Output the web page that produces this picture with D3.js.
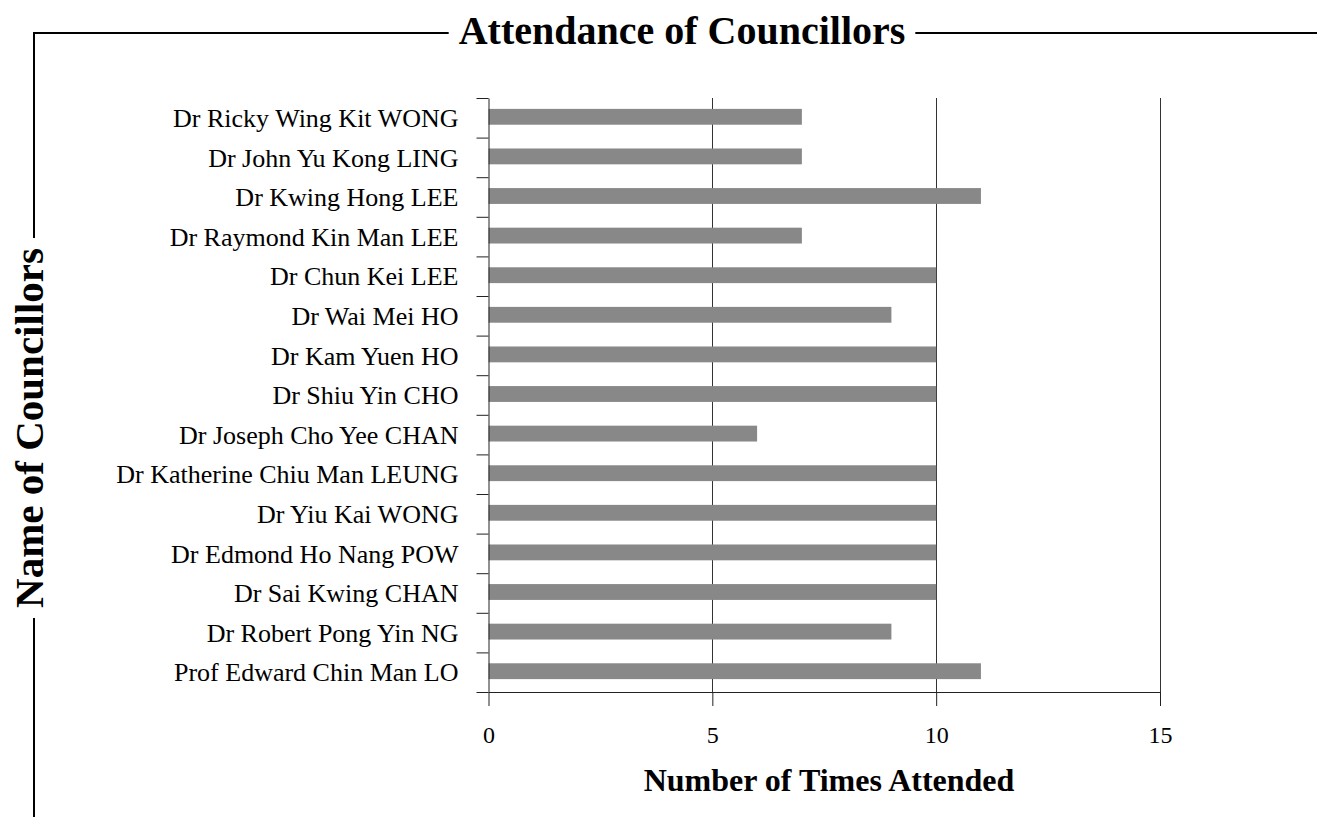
<!DOCTYPE html>
<html>
<head>
<meta charset="utf-8">
<script src="https://cdn.jsdelivr.net/npm/d3@7"></script>
<style>
  html, body { margin: 0; padding: 0; background: #fff; }
  svg { display: block; font-family: "Liberation Serif", "Times New Roman", serif; }
</style>
</head>
<body>
<svg id="chart" width="1317" height="817"></svg>
<script>
// data
const councillors = [
  'Dr Ricky Wing Kit WONG',
  'Dr John Yu Kong LING',
  'Dr Kwing Hong LEE',
  'Dr Raymond Kin Man LEE',
  'Dr Chun Kei LEE',
  'Dr Wai Mei HO',
  'Dr Kam Yuen HO',
  'Dr Shiu Yin CHO',
  'Dr Joseph Cho Yee CHAN',
  'Dr Katherine Chiu Man LEUNG',
  'Dr Yiu Kai WONG',
  'Dr Edmond Ho Nang POW',
  'Dr Sai Kwing CHAN',
  'Dr Robert Pong Yin NG',
  'Prof Edward Chin Man LO'
];
const attended = [7, 7, 11, 7, 10, 9, 10, 10, 6, 10, 10, 10, 10, 9, 11];
const xTicks = [0, 5, 10, 15];

const svg = d3.select('#chart');

const plot = { left: 488.5, right: 1160, top: 98, bottom: 692 };

// X scale
const scaleX = d3.scaleLinear()
  .domain([0, 15])
  .range([plot.left, plot.right]);

// Y scale (one band per councillor)
const scaleY = d3.scaleBand()
  .domain(councillors)
  .range([plot.top, plot.bottom])
  .paddingInner(0)
  .paddingOuter(0);

const barH = scaleY.bandwidth() * 0.4;

// gridlines
svg.append('g')
  .attr('id', 'grid')
  .selectAll('line')
  .data(xTicks.filter(d => d > 0))
  .join('line')
  .attr('x1', d => Math.round(scaleX(d)) + 0.5)
  .attr('x2', d => Math.round(scaleX(d)) + 0.5)
  .attr('y1', plot.top)
  .attr('y2', plot.bottom)
  .style('stroke', '#333')
  .style('stroke-width', 1);

// bars
svg.append('g')
  .attr('id', 'bars')
  .selectAll('rect')
  .data(attended)
  .join('rect')
  .attr('x', scaleX(0))
  .attr('y', (d, i) => scaleY(councillors[i]) + scaleY.bandwidth() / 2 - barH / 2 - 1)
  .attr('width', d => scaleX(d) - scaleX(0))
  .attr('height', barH)
  .style('fill', '#888888');

// x axis
const xAxis = svg.append('g')
  .attr('id', 'x-axis')
  .attr('transform', `translate(0,${plot.bottom})`)
  .call(d3.axisBottom(scaleX).tickValues(xTicks).tickSize(14).tickSizeOuter(0).tickPadding(20));

// y axis ticks at band boundaries
const scaleYEdge = d3.scaleLinear()
  .domain([0, councillors.length])
  .range([plot.top, plot.bottom]);

const yAxis = svg.append('g')
  .attr('id', 'y-axis')
  .attr('transform', `translate(${plot.left},0)`)
  .call(d3.axisLeft(scaleYEdge).tickValues(d3.range(councillors.length + 1)).tickFormat('').tickSize(12).tickSizeOuter(0));

[xAxis, yAxis].forEach(g => {
  g.selectAll('line').style('stroke', '#222');
  g.select('.domain').style('stroke', '#222');
});
xAxis.selectAll('text')
  .style('font-family', '"Liberation Serif", serif')
  .style('font-size', '24px')
  .style('fill', '#000');

// y labels
svg.append('g')
  .attr('id', 'y-labels')
  .selectAll('text')
  .data(councillors)
  .join('text')
  .text(d => d)
  .attr('x', plot.left - 30)
  .attr('y', d => scaleY(d) + scaleY.bandwidth() / 2)
  .attr('dy', '0.35em')
  .style('text-anchor', 'end')
  .style('font-size', '26px')
  .style('fill', '#000');

// axis title
svg.append('text')
  .text('Number of Times Attended')
  .attr('x', 829)
  .attr('y', 791)
  .style('text-anchor', 'middle')
  .style('font-weight', 'bold')
  .style('font-size', '32px');

// main title
const title = svg.append('text')
  .text('Attendance of Councillors')
  .attr('x', 682)
  .attr('y', 44)
  .style('text-anchor', 'middle')
  .style('font-weight', 'bold')
  .style('font-size', '40px');

// vertical title
const yTitle = svg.append('text')
  .text('Name of Councillors')
  .attr('transform', 'translate(43,428) rotate(-90)')
  .style('text-anchor', 'middle')
  .style('font-weight', 'bold')
  .style('font-size', '41px');

// frame, broken around the titles
const tb = title.node().getBBox();
const yLen = yTitle.node().getComputedTextLength();
const frameX = 34;
const frameY = 33;
const gap = 10;
const frame = svg.append('g')
  .attr('id', 'frame')
  .style('stroke', '#000')
  .style('stroke-width', 2);
[
  [frameX, frameY, tb.x - gap, frameY],
  [tb.x + tb.width + gap, frameY, 1317, frameY],
  [frameX, frameY - 1, frameX, 428 - yLen / 2 - gap],
  [frameX, 428 + yLen / 2 + gap, frameX, 817]
].forEach(l => {
  frame.append('line')
    .attr('x1', l[0]).attr('y1', l[1])
    .attr('x2', l[2]).attr('y2', l[3]);
});
</script>
</body>
</html>
